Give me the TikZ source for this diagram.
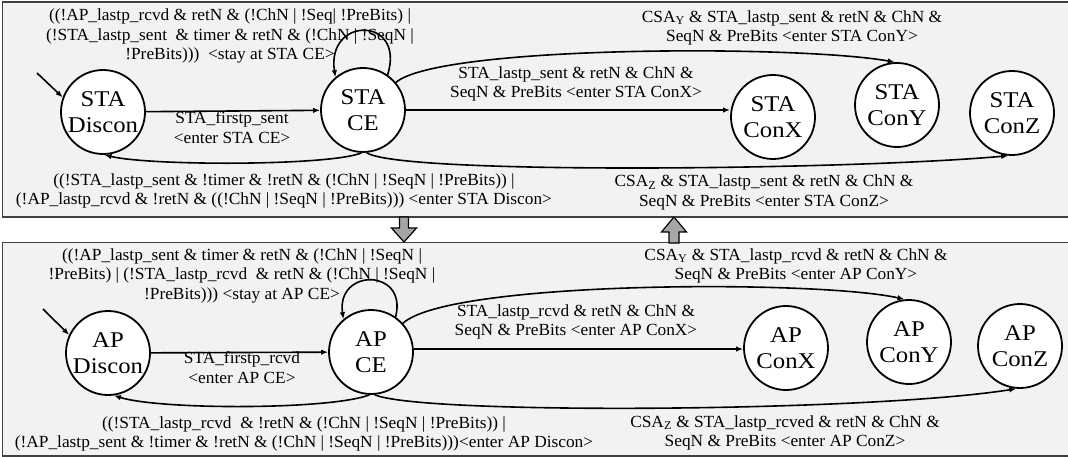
\documentclass[tikz,border=0pt]{standalone}
\usepackage{fontspec}
\setmainfont[FakeStretch=1.02]{Liberation Serif}
\newfontfamily\statefont[FakeStretch=1.1]{Liberation Serif}
\usetikzlibrary{arrows.meta}
\definecolor{panelfill}{HTML}{F2F2F2}
\definecolor{panelline}{HTML}{404040}
\definecolor{blockgray}{HTML}{A6A6A6}
\tikzset{
  state/.style={circle, draw, line width=1.8pt, fill=white, minimum size=84pt, inner sep=0pt, align=center, font=\statefont\fontsize{22.5}{26.5}\selectfont},
  lbl/.style={align=center, inner sep=0pt, font=\fontsize{17}{19.5}\selectfont},
  edge/.style={line width=1.6pt, -{Latex[length=7pt,width=5.5pt]}},
  panel/.style={fill=panelfill, draw=panelline, line width=1.5pt},
  blockarrow/.style={fill=blockgray, draw=black, line width=1.2pt, line join=miter}
}
\begin{document}
\begin{tikzpicture}[x=1pt,y=-1pt]
\useasboundingbox (0,0) rectangle (1068,457);
\clip (0,0) rectangle (1068,457);
% panels
\draw[panel] (2.5,2) rectangle (1080,217);
\draw[panel] (2.5,242.5) rectangle (1080,456);
% block arrows
\draw[blockarrow] (399.5,217) -- (408.5,217) -- (408.5,228) -- (416.5,228) -- (404,242) -- (391.5,228) -- (399.5,228) -- cycle;
\draw[blockarrow] (669,243) -- (679,243) -- (679,232) -- (686.5,232) -- (674,217) -- (661.5,232) -- (669,232) -- cycle;

% ---------- STA panel ----------
\node[state] (sd) at (103,112) {STA\\Discon};
\node[state] (ce) at (363,110) {STA\\CE};
\node[state] (cx) at (773,117) {STA\\ConX};
\node[state] (cy) at (897,105) {STA\\ConY};
\node[state] (cz) at (1012,113) {STA\\ConZ};
\coordinate (sdin) at (37,73);
\draw[edge] (sdin) -- (sd.160);
\draw[edge] (sd) -- (ce);
\draw[edge] (ce.55) .. controls (406,16) and (326,16) .. (ce.130);
\draw[edge] (ce.40) .. controls (440,45) and (800,45) .. (cy.93);
\draw[edge] (ce.east) -- (ce.east -| cx.west);
\draw[edge] (ce.-85) .. controls (400,175) and (850,170) .. (cz.-95);
\draw[edge] (ce.-92) .. controls (330,166) and (150,166) .. (sd.-88);

\node[lbl] (tloop) at (230,36) {((!AP\_lastp\_rcvd \& retN \& (!ChN | !Seq| !PreBits) |\\(!STA\_lastp\_sent\ \ \& timer \& retN \& (!ChN | !SeqN |\\!PreBits)))\ \ <stay at STA CE>};
\node[lbl] (tfirst) at (232,127.5) {STA\_firstp\_sent\\<enter STA CE>};
\node[lbl] (tdis) at (284,191) {((!STA\_lastp\_sent \& !timer \& !retN \& (!ChN | !SeqN | !PreBits)) |\\(!AP\_lastp\_rcvd \& !retN \& ((!ChN | !SeqN | !PreBits))) <enter STA Discon>};
\node[lbl] (tcx) at (576,84) {STA\_lastp\_sent \& retN \& ChN \&\\SeqN \& PreBits <enter STA ConX>};
\node[lbl] (tcy) at (792,28) {CSA\textsubscript{Y} \& STA\_lastp\_sent \& retN \& ChN \&\\SeqN \& PreBits <enter STA ConY>};
\node[lbl] (tcz) at (764,192.5) {CSA\textsubscript{Z} \& STA\_lastp\_sent \& retN \& ChN \&\\SeqN \& PreBits <enter STA ConZ>};

% ---------- AP panel ----------
\node[state] (ad) at (108,353) {AP\\Discon};
\node[state] (ace) at (371,352) {AP\\CE};
\node[state] (acx) at (786,348) {AP\\ConX};
\node[state] (acy) at (909,342) {AP\\ConY};
\node[state] (acz) at (1020,346) {AP\\ConZ};
\coordinate (adin) at (43,309);
\draw[edge] (adin) -- (ad.155);
\draw[edge] (ad) -- (ace);
\draw[edge] (ace.55) .. controls (408,268) and (336,268) .. (ace.130);
\draw[edge] (ace.42) .. controls (450,280) and (820,280) .. (acy.96);
\draw[edge] (ace.4) -- (ace.4 -| acx.west);
\draw[edge] (ace.-85) .. controls (420,415) and (870,412) .. (acz.-95);
\draw[edge] (ace.-92) .. controls (330,410) and (160,410) .. (ad.-82);

\node[lbl] (bloop) at (242,275.5) {((!AP\_lastp\_sent \& timer \& retN \& (!ChN | !SeqN |\\!PreBits) | (!STA\_lastp\_rcvd\ \ \& retN \& (!ChN | !SeqN |\\!PreBits))) <stay at AP CE>};
\node[lbl] (bfirst) at (242,367.5) {STA\_firstp\_rcvd\\<enter AP CE>};
\node[lbl] (bdis) at (304,434) {((!STA\_lastp\_rcvd\ \ \& !retN \& (!ChN | !SeqN | !PreBits)) |\\(!AP\_lastp\_sent \& !timer \& !retN \& (!ChN | !SeqN | !PreBits)))<enter AP Discon>};
\node[lbl] (bcx) at (576,322) {STA\_lastp\_rcvd \& retN \& ChN \&\\SeqN \& PreBits <enter AP ConX>};
\node[lbl] (bcy) at (796,266) {CSA\textsubscript{Y} \& STA\_lastp\_rcvd \& retN \& ChN \&\\SeqN \& PreBits <enter AP ConY>};
\node[lbl] (bcz) at (785,433) {CSA\textsubscript{Z} \& STA\_lastp\_rcved \& retN \& ChN \&\\SeqN \& PreBits <enter AP ConZ>};
\end{tikzpicture}
\end{document}
